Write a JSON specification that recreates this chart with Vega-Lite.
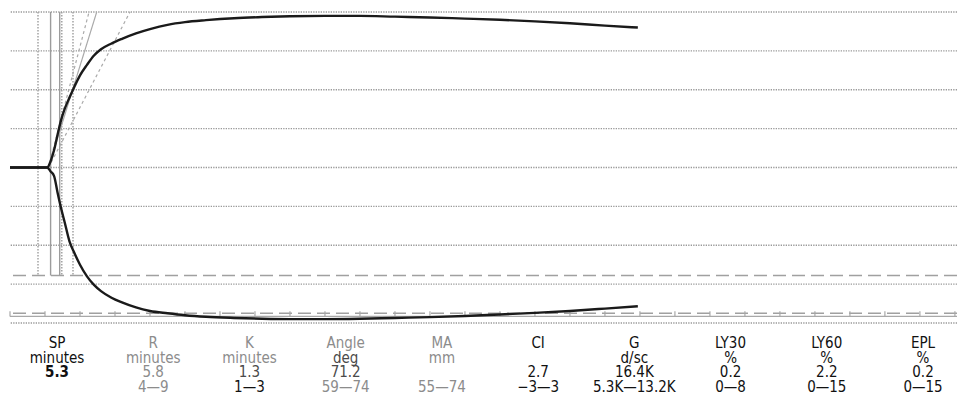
{
  "$schema": "https://vega.github.io/schema/vega-lite/v6.json",
  "autosize": {"type": "none"},
  "padding": {"left": 10, "top": 12, "right": 6, "bottom": 75},
  "width": 947,
  "height": 311,
  "background": "white",
  "config": {"view": {"stroke": null}, "text": {"font": "DejaVu Sans Condensed, sans-serif"}},
  "resolve": {"scale": {"x": "independent", "y": "independent", "color": "independent", "strokeDash": "independent"}},
  "layer": [
    {
      "layer": [
        {
          "data": {"values": [{"g": 4}, {"g": 3}, {"g": 2}, {"g": 1}, {"g": 0}, {"g": -1}, {"g": -2}, {"g": -3}, {"g": -4}]},
          "mark": {"type": "rule", "color": "#999999", "strokeWidth": 1.3, "strokeDash": [1.3, 1.2]},
          "encoding": {"y": {"field": "g", "type": "quantitative", "scale": {"domain": [-4, 4], "nice": false, "zero": false}, "axis": null}}
        },
        {
          "data": {"values": [{"g": -2.78}, {"g": -3.75}]},
          "mark": {"type": "rule", "color": "#a0a0a0", "strokeWidth": 1.6, "strokeDash": [13, 6]},
          "encoding": {"y": {"field": "g", "type": "quantitative", "axis": null}}
        },
        {
          "data": {"values": [{"g": -3.83}]},
          "mark": {"type": "rule", "color": "#a8a8a8", "strokeWidth": 1.2},
          "encoding": {"y": {"field": "g", "type": "quantitative", "axis": null}}
        },
        {
          "data": {"values": [
            {"t": 0}, {"t": 5}, {"t": 10}, {"t": 15}, {"t": 20}, {"t": 25}, {"t": 30}, {"t": 35}, {"t": 40}, {"t": 45},
            {"t": 50}, {"t": 55}, {"t": 60}, {"t": 65}, {"t": 70}, {"t": 75}, {"t": 80}, {"t": 85}, {"t": 90}, {"t": 95},
            {"t": 100}, {"t": 105}, {"t": 110}, {"t": 115}, {"t": 120}, {"t": 125}, {"t": 130}, {"t": 135}
          ]},
          "mark": {"type": "rule", "color": "#a8a8a8", "strokeWidth": 1.2},
          "encoding": {
            "x": {"field": "t", "type": "quantitative", "scale": {"domain": [0, 135.3], "nice": false, "zero": false}, "axis": null},
            "y": {"datum": -3.83, "type": "quantitative", "axis": null},
            "y2": {"datum": -3.7}
          }
        },
        {
          "data": {"values": [
            {"t": 4.0, "style": "dotted"},
            {"t": 5.8, "style": "solid"},
            {"t": 7.1, "style": "solid"},
            {"t": 7.4, "style": "dotted"},
            {"t": 9.0, "style": "dotted"}
          ]},
          "mark": {"type": "rule", "color": "#9c9c9c", "strokeWidth": 1.4},
          "encoding": {
            "x": {"field": "t", "type": "quantitative", "axis": null},
            "y": {"datum": 4, "type": "quantitative", "axis": null},
            "y2": {"datum": -2.78},
            "strokeDash": {"field": "style", "type": "nominal", "scale": {"domain": ["solid", "dotted", "dashed"], "range": [[1, 0], [1.5, 1.5], [3, 3]]}, "legend": null}
          }
        },
        {
          "data": {"values": [
            {"t0": 5.5, "a0": 0, "t1": 12.39, "a1": 4, "style": "solid"},
            {"t0": 5.5, "a0": 0, "t1": 11.29, "a1": 4, "style": "dashed"},
            {"t0": 5.5, "a0": 0, "t1": 17.14, "a1": 4, "style": "dashed"}
          ]},
          "mark": {"type": "rule", "color": "#aaaaaa", "strokeWidth": 1.2},
          "encoding": {
            "x": {"field": "t0", "type": "quantitative", "axis": null},
            "x2": {"field": "t1"},
            "y": {"field": "a0", "type": "quantitative", "axis": null},
            "y2": {"field": "a1"},
            "strokeDash": {"field": "style", "type": "nominal", "legend": null}
          }
        },
        {
          "data": {"values": [
            {"t": 0, "upper": 0, "lower": 0},
            {"t": 5.3, "upper": 0, "lower": 0},
            {"t": 5.8, "upper": 0.16, "lower": -0.1},
            {"t": 6.3, "upper": 0.45, "lower": -0.22},
            {"t": 6.8, "upper": 0.85, "lower": -0.65},
            {"t": 7.3, "upper": 1.22, "lower": -1.05},
            {"t": 7.8, "upper": 1.5, "lower": -1.4},
            {"t": 8.5, "upper": 1.8, "lower": -1.9},
            {"t": 9.2, "upper": 2.08, "lower": -2.2},
            {"t": 10, "upper": 2.37, "lower": -2.5},
            {"t": 11, "upper": 2.64, "lower": -2.8},
            {"t": 12, "upper": 2.88, "lower": -3.02},
            {"t": 13, "upper": 3.04, "lower": -3.18},
            {"t": 14.5, "upper": 3.19, "lower": -3.35},
            {"t": 16, "upper": 3.31, "lower": -3.47},
            {"t": 18, "upper": 3.45, "lower": -3.6},
            {"t": 20, "upper": 3.56, "lower": -3.69},
            {"t": 22.5, "upper": 3.67, "lower": -3.75},
            {"t": 25, "upper": 3.74, "lower": -3.8},
            {"t": 28, "upper": 3.79, "lower": -3.84},
            {"t": 32, "upper": 3.84, "lower": -3.87},
            {"t": 36, "upper": 3.87, "lower": -3.89},
            {"t": 40, "upper": 3.89, "lower": -3.9},
            {"t": 45, "upper": 3.9, "lower": -3.9},
            {"t": 50, "upper": 3.9, "lower": -3.89},
            {"t": 55, "upper": 3.88, "lower": -3.87},
            {"t": 60, "upper": 3.86, "lower": -3.85},
            {"t": 65, "upper": 3.83, "lower": -3.82},
            {"t": 70, "upper": 3.8, "lower": -3.78},
            {"t": 75, "upper": 3.76, "lower": -3.74},
            {"t": 80, "upper": 3.71, "lower": -3.69},
            {"t": 85, "upper": 3.65, "lower": -3.63},
            {"t": 89.7, "upper": 3.6, "lower": -3.57}
          ]},
          "layer": [
            {
              "mark": {"type": "line", "color": "#1a1a1a", "strokeWidth": 2.4, "interpolate": "monotone"},
              "encoding": {"x": {"field": "t", "type": "quantitative", "axis": null}, "y": {"field": "upper", "type": "quantitative", "axis": null}}
            },
            {
              "mark": {"type": "line", "color": "#1a1a1a", "strokeWidth": 2.4, "interpolate": "monotone"},
              "encoding": {"x": {"field": "t", "type": "quantitative", "axis": null}, "y": {"field": "lower", "type": "quantitative", "axis": null}}
            }
          ]
        }
      ]
    },
    {
      "data": {"values": [
        {"col": 0, "row": "name", "txt": "SP", "tone": "dark", "bold": "n"},
        {"col": 0, "row": "unit", "txt": "minutes", "tone": "dark", "bold": "n"},
        {"col": 0, "row": "value", "txt": "5.3", "tone": "dark", "bold": "y"},
        {"col": 1, "row": "name", "txt": "R", "tone": "light", "bold": "n"},
        {"col": 1, "row": "unit", "txt": "minutes", "tone": "light", "bold": "n"},
        {"col": 1, "row": "value", "txt": "5.8", "tone": "light", "bold": "n"},
        {"col": 1, "row": "range", "txt": "4—9", "tone": "light", "bold": "n"},
        {"col": 2, "row": "name", "txt": "K", "tone": "light", "bold": "n"},
        {"col": 2, "row": "unit", "txt": "minutes", "tone": "light", "bold": "n"},
        {"col": 2, "row": "value", "txt": "1.3", "tone": "mid", "bold": "n"},
        {"col": 2, "row": "range", "txt": "1—3", "tone": "dark", "bold": "n"},
        {"col": 3, "row": "name", "txt": "Angle", "tone": "light", "bold": "n"},
        {"col": 3, "row": "unit", "txt": "deg", "tone": "mid", "bold": "n"},
        {"col": 3, "row": "value", "txt": "71.2", "tone": "mid", "bold": "n"},
        {"col": 3, "row": "range", "txt": "59—74", "tone": "light", "bold": "n"},
        {"col": 4, "row": "name", "txt": "MA", "tone": "light", "bold": "n"},
        {"col": 4, "row": "unit", "txt": "mm", "tone": "light", "bold": "n"},
        {"col": 4, "row": "range", "txt": "55—74", "tone": "light", "bold": "n"},
        {"col": 5, "row": "name", "txt": "CI", "tone": "dark", "bold": "n"},
        {"col": 5, "row": "value", "txt": "2.7", "tone": "dark", "bold": "n"},
        {"col": 5, "row": "range", "txt": "−3—3", "tone": "dark", "bold": "n"},
        {"col": 6, "row": "name", "txt": "G", "tone": "dark", "bold": "n"},
        {"col": 6, "row": "unit", "txt": "d/sc", "tone": "dark", "bold": "n"},
        {"col": 6, "row": "value", "txt": "16.4K", "tone": "dark", "bold": "n"},
        {"col": 6, "row": "range", "txt": "5.3K—13.2K", "tone": "dark", "bold": "n"},
        {"col": 7, "row": "name", "txt": "LY30", "tone": "dark", "bold": "n"},
        {"col": 7, "row": "unit", "txt": "%", "tone": "dark", "bold": "n"},
        {"col": 7, "row": "value", "txt": "0.2", "tone": "dark", "bold": "n"},
        {"col": 7, "row": "range", "txt": "0—8", "tone": "dark", "bold": "n"},
        {"col": 8, "row": "name", "txt": "LY60", "tone": "dark", "bold": "n"},
        {"col": 8, "row": "unit", "txt": "%", "tone": "dark", "bold": "n"},
        {"col": 8, "row": "value", "txt": "2.2", "tone": "dark", "bold": "n"},
        {"col": 8, "row": "range", "txt": "0—15", "tone": "dark", "bold": "n"},
        {"col": 9, "row": "name", "txt": "EPL", "tone": "dark", "bold": "n"},
        {"col": 9, "row": "unit", "txt": "%", "tone": "dark", "bold": "n"},
        {"col": 9, "row": "value", "txt": "0.2", "tone": "dark", "bold": "n"},
        {"col": 9, "row": "range", "txt": "0—15", "tone": "dark", "bold": "n"}
      ]},
      "encoding": {
        "x": {"field": "col", "type": "quantitative", "scale": {"domain": [0, 9], "range": [47, 913], "nice": false, "zero": false}, "axis": null},
        "y": {"field": "row", "type": "ordinal", "scale": {"type": "point", "domain": ["name", "unit", "value", "range"], "range": [336, 380], "padding": 0}, "axis": null},
        "text": {"field": "txt"},
        "color": {"field": "tone", "type": "nominal", "scale": {"domain": ["dark", "mid", "light"], "range": ["#111111", "#4a4a4a", "#8c8c8c"]}, "legend": null}
      },
      "layer": [
        {
          "transform": [{"filter": "datum.bold == 'n'"}],
          "mark": {"type": "text", "fontSize": 15, "baseline": "alphabetic", "align": "center"}
        },
        {
          "transform": [{"filter": "datum.bold == 'y'"}],
          "mark": {"type": "text", "fontSize": 15, "baseline": "alphabetic", "align": "center", "fontWeight": "bold"}
        }
      ]
    }
  ]
}
